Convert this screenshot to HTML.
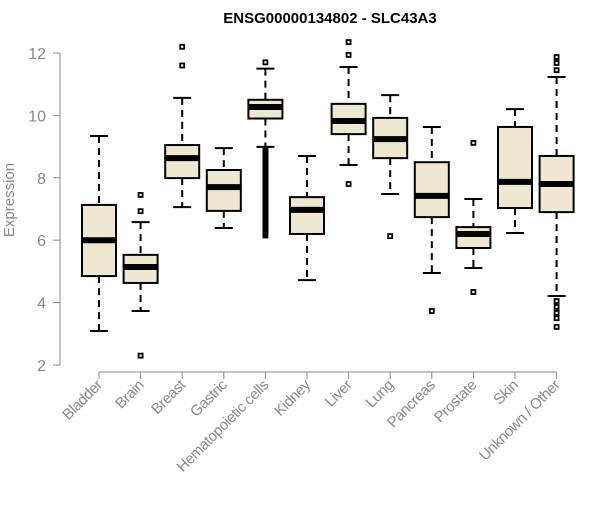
<!DOCTYPE html>
<html><head><meta charset="utf-8"><style>body{margin:0;background:#fff}svg{font-family:"Liberation Sans",sans-serif}</style></head>
<body>
<svg id="c" width="600" height="500">
<text x="330" y="23" text-anchor="middle" font-size="15" font-weight="bold">ENSG00000134802 - SLC43A3</text>
<text transform="translate(14,200) rotate(-90)" text-anchor="middle" font-size="15" fill="#888">Expression</text>
</svg>
<script>
const categories=["Bladder","Brain","Breast","Gastric","Hematopoietic cells","Kidney","Liver","Lung","Pancreas","Prostate","Skin","Unknown / Other"];
const lowWhisker=[3.09,3.73,7.06,6.39,8.99,4.72,8.41,7.48,4.95,5.11,6.23,4.21];
const q1=[4.85,4.63,7.99,6.94,9.9,6.2,9.4,8.63,6.74,5.75,7.03,6.9];
const median=[6.0,5.14,8.63,7.7,10.27,6.97,9.82,9.24,7.42,6.2,7.87,7.8];
const q3=[7.13,5.53,9.05,8.25,10.5,7.38,10.37,9.92,8.5,6.42,9.63,8.7];
const highWhisker=[9.34,6.58,10.56,8.95,11.5,8.7,11.55,10.65,9.63,7.32,10.2,11.23];
const outliers=[[],[7.45,6.93,2.3],[12.2,11.6],[],[11.7,8.9,8.85,8.8,8.75,8.7,8.65,8.6,8.55,8.5,8.45,8.4,8.35,8.3,8.25,8.2,8.15,8.1,8.05,8.0,7.95,7.9,7.85,7.8,7.75,7.7,7.65,7.6,7.55,7.5,7.45,7.4,7.35,7.3,7.25,7.2,7.15,7.1,7.05,7.0,6.95,6.9,6.85,6.8,6.75,6.7,6.65,6.6,6.55,6.5,6.45,6.4,6.35,6.3,6.25,6.2,6.15],[],[12.35,11.94,7.8],[6.13],[3.73],[9.12,4.34],[],[11.87,11.68,11.45,4.05,3.86,3.67,3.5,3.22]];
const yTicks=[2,4,6,8,10,12];
const svg=document.getElementById('c');const NS='http://www.w3.org/2000/svg';
const y=v=>365-(v-2)*31.2;const x=i=>99+i*41.6;
function mk(t,a,p){const e=document.createElementNS(NS,t);for(const k in a)e.setAttribute(k,a[k]);(p||svg).appendChild(e);return e;}
const yAxis=mk('g',{});


mk('line',{x1:60,x2:60,y1:y(12),y2:y(2),stroke:'#888'},yAxis);
yTicks.forEach(t=>{mk('line',{x1:53,x2:60,y1:y(t),y2:y(t),stroke:'#888'},yAxis);
const tx=mk('text',{x:46,y:y(t)+6,'text-anchor':'end','font-size':16,fill:'#888'},yAxis);tx.textContent=t;

});
const xAxis=mk('g',{});


mk('line',{x1:x(0),x2:x(11),y1:372,y2:372,stroke:'#888'},xAxis);
categories.forEach((c,i)=>{const cx=x(i);
mk('line',{x1:cx,x2:cx,y1:372,y2:379,stroke:'#888'},xAxis);
const t=mk('text',{transform:`translate(${cx+4},${386}) rotate(-45)`,'text-anchor':'end','font-size':15,'letter-spacing':'-0.4',fill:'#888'},xAxis);t.textContent=c;


const g=mk('g',{});


mk('line',{x1:cx,x2:cx,y1:y(highWhisker[i]),y2:y(q3[i]),stroke:'#000','stroke-width':2,'stroke-dasharray':'7,5'},g);
mk('line',{x1:cx,x2:cx,y1:y(q1[i]),y2:y(lowWhisker[i]),stroke:'#000','stroke-width':2,'stroke-dasharray':'7,5'},g);
mk('line',{x1:cx-9,x2:cx+9,y1:y(highWhisker[i]),y2:y(highWhisker[i]),stroke:'#000','stroke-width':2},g);
mk('line',{x1:cx-9,x2:cx+9,y1:y(lowWhisker[i]),y2:y(lowWhisker[i]),stroke:'#000','stroke-width':2},g);
mk('rect',{x:cx-17,y:y(q3[i]),width:34,height:y(q1[i])-y(q3[i]),fill:'#efe8d0',stroke:'#000','stroke-width':2},g);
mk('line',{x1:cx-17,x2:cx+17,y1:y(median[i]),y2:y(median[i]),stroke:'#000','stroke-width':6},g);
outliers[i].forEach(o=>{const r=mk('rect',{x:cx-2,y:y(o)-2,width:4,height:4,fill:'none',stroke:'#000','stroke-width':1.8},g);

});
});
</script>
</body></html>
